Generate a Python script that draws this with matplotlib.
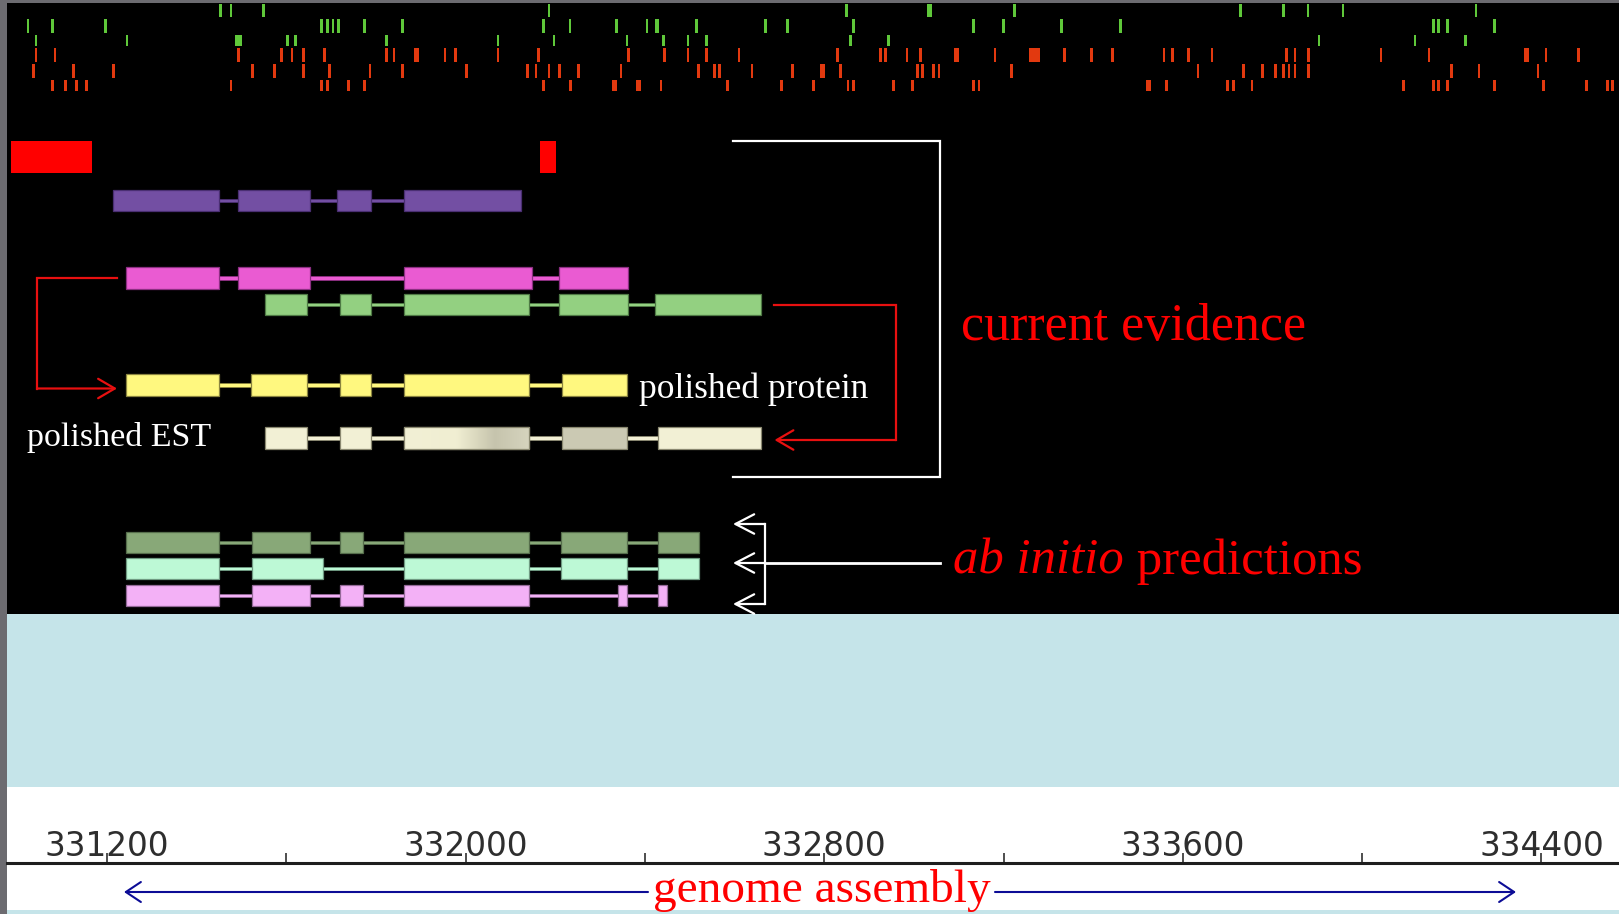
import numpy as np
import matplotlib
matplotlib.use("Agg")
import matplotlib.pyplot as plt
from matplotlib.patches import Rectangle
from matplotlib.colors import LinearSegmentedColormap

# ---------------------------------------------------------------- data
# genomic window shown in the browser panel
span_start, span_end = 330977, 334573

# ruler
major_ticks = [331200, 332000, 332800, 333600, 334400]
major_labels = ["331200", "332000", "332800", "333600", "334400"]
minor_ticks = [331600, 332400, 333200, 334000]

# small feature hits in the six upper tracks (centres, bp)
green_row1 = [331454, 331477, 331549, 332186, 332849, 333225, 333729,
              333825, 333879, 333957, 334254]
green_row2 = [331024, 331078, 331197, 331679, 331692, 331704, 331716,
              331775, 331859, 332174, 332233, 332336, 332405, 332515,
              332669, 332718, 332865, 333133, 333200, 333330, 333461,
              334159, 334171, 334190, 334296]
green_row3 = [331042, 331245, 331603, 331620, 331823, 332072, 332197,
              332360, 332441, 332496, 332537, 332858, 332943, 333904,
              334118, 334231]
red_row4 = [331042, 331084, 331494, 331590, 331613, 331639, 331686,
            331823, 331840, 331954, 331978, 332072, 332162, 332364,
            332443, 332496, 332537, 332610, 332829, 332925, 332937,
            332985, 333015, 333181, 333336, 333397, 333443, 333558,
            333577, 333613, 333665, 333832, 333850, 333880, 334042,
            334149, 334410, 334483]
red_row5 = [331036, 331126, 331215, 331525, 331573, 331639, 331697,
            331787, 331859, 332002, 332138, 332157, 332186, 332210,
            332252, 332347, 332520, 332556, 332567, 332639, 332729,
            332836, 333008, 333019, 333044, 333056, 333218, 333634,
            333736, 333777, 333807, 333825, 333837, 333850, 333880,
            334200, 334261, 334392]
red_row6 = [331078, 331108, 331132, 331155, 331477, 331679, 331692,
            331739, 331775, 332174, 332234, 332436, 332585, 332704,
            332776, 332853, 332865, 332954, 332997, 333133, 333145,
            333563, 333700, 333713, 333754, 334093, 334159, 334171,
            334190, 334296, 334404, 334500, 334547, 334558]
# longer hits: (track index, centre, length)
long_hits = [(0, 333035, 11), (1, 332427, 11), (2, 331494, 16),
             (3, 331890, 12), (3, 333095, 11), (3, 333269, 23),
             (3, 334366, 11), (4, 332797, 11),
             (5, 332332, 11), (5, 332386, 11), (5, 333524, 11)]

# gene models: exon (start, end) in bp
red_blocks = [(330987, 331166), (332166, 332202)]
model_purple = [(331213, 331450), (331492, 331653), (331713, 331790),
                (331863, 332123)]
model_pink = [(331243, 331450), (331492, 331653), (331863, 332148),
              (332208, 332362)]
model_green = [(331553, 331647), (331719, 331790), (331863, 332142),
               (332208, 332362), (332422, 332660)]
polished_protein = [(331242, 331450), (331522, 331647), (331720, 331789),
                    (331862, 332142), (332215, 332361)]
polished_est = [(331553, 331647), (331720, 331789), (331862, 332142),
                (332215, 332360), (332429, 332659)]
abinitio_1 = [(331242, 331449), (331523, 331652), (331719, 331772),
              (331862, 332141), (332212, 332360), (332429, 332521)]
abinitio_2 = [(331242, 331449), (331523, 331682), (331862, 332141),
              (332212, 332360), (332429, 332521)]
abinitio_3 = [(331242, 331449), (331523, 331652), (331719, 331772),
              (331862, 332141), (332339, 332360), (332429, 332450)]

# ---------------------------------------------------------------- figure
W, H = 1619, 914
fig = plt.figure(figsize=(W / 100, H / 100), dpi=100, facecolor="#6c6b70")

# main browser panel: x in bp, y in screen rows
ax = fig.add_axes([7 / W, 0, 1 - 7 / W, 1 - 3 / H])
ax.axis("off")

ax.axhspan(3, 614, color="black", lw=0)
ax.axhspan(614, 787, color="#c5e4e9", lw=0)
ax.axhspan(787, 910, color="white", lw=0)
ax.axhspan(910, 914, color="#c5e4e9", lw=0)

GREEN = "#5fc83a"
RED_HIT = "#e2390f"
track_rows = [green_row1, green_row2, green_row3, red_row4, red_row5, red_row6]
track_colors = [GREEN, GREEN, GREEN, RED_HIT, RED_HIT, RED_HIT]
track_bands = [(3.5, 17), (19, 33), (35, 46), (48, 62), (64, 78), (80, 91)]
for centers, col, (y0, y1) in zip(track_rows, track_colors, track_bands):
    ax.bar(centers, y1 - y0, width=6, bottom=y0, color=col, linewidth=0)
for idx, c, length in long_hits:
    y0, y1 = track_bands[idx]
    ax.bar([c], y1 - y0, width=length, bottom=y0, color=track_colors[idx],
           linewidth=0)


def draw_model(exons, y0, y1, face, edge, colors=None):
    yc = (y0 + y1) / 2
    for (_, b), (c, _) in zip(exons[:-1], exons[1:]):
        ax.add_patch(Rectangle((b, yc - 1.6), c - b, 3.2, facecolor=face,
                               edgecolor=edge, lw=0.6, zorder=3))
    for i, (a, b) in enumerate(exons):
        fc = colors[i] if colors else face
        ax.add_patch(Rectangle((a, y0), b - a, y1 - y0, facecolor=fc,
                               edgecolor=edge, lw=0.9, zorder=4))


for a, b in red_blocks:
    ax.add_patch(Rectangle((a, 141), b - a, 32, facecolor="#ff0000",
                           edgecolor="none", zorder=4))

draw_model(model_purple, 190, 211, "#734fa3", "#4a2f72")
draw_model(model_pink, 267, 289, "#ea5bd2", "#8c2f82")
draw_model(model_green, 294, 315, "#93d081", "#4f7a45")
draw_model(polished_protein, 374, 396, "#fff87f", "#8a8440")
est_light = "#f2f0d5"
draw_model(polished_est, 427, 449, est_light, "#8a8870",
           colors=[est_light, est_light, est_light, "#cbc9b3", est_light])
# shaded third exon of the EST alignment
shade = LinearSegmentedColormap.from_list(
    "est", [(0, est_light), (0.42, "#f0eed2"), (0.72, "#c6c4ad"), (1, "#d6d4be")])
a, b = polished_est[2]
ax.imshow(np.linspace(0, 1, 256)[None, :], cmap=shade, aspect="auto",
          extent=(a, b, 449, 427), interpolation="bilinear", zorder=4.5)
ax.add_patch(Rectangle((a, 427), b - a, 22, facecolor="none",
                       edgecolor="#8a8870", lw=0.9, zorder=5))

draw_model(abinitio_1, 532, 553, "#88a878", "#566e4c")
draw_model(abinitio_2, 558, 579, "#bdf9d6", "#6f9a82")
draw_model(abinitio_3, 585, 606, "#f3b1f6", "#946a98")

ax.set_xlim(span_start, span_end)
ax.set_ylim(H, 3)

# ruler
rx = fig.add_axes([7 / W, 4 / H, 1 - 7 / W, (910 - 863.3) / H])
rx.set_xlim(span_start, span_end)
rx.patch.set_alpha(0)
for s in ("left", "right", "bottom"):
    rx.spines[s].set_visible(False)
rx.spines["top"].set_linewidth(2.2)
rx.spines["top"].set_color("#1e1e1e")
rx.set_yticks([])
rx.xaxis.set_ticks_position("top")
rx.set_xticks(major_ticks)
rx.set_xticklabels(major_labels)
rx.set_xticks(minor_ticks, minor=True)
rx.tick_params(axis="x", which="both", direction="out", length=7.5,
               width=1.1, color="#1e1e1e", pad=-7.6, labelsize=23.5,
               labelcolor="#2e2e2e", labelbottom=False, labeltop=True)

# annotation layer in screen pixels
ov = fig.add_axes([0, 0, 1, 1])
ov.set_xlim(0, W)
ov.set_ylim(H, 0)
ov.axis("off")

RED = "#ff0000"
SERIF = "Liberation Serif"


def arrow(tail, tip, color, lw, hl, hw, style="->"):
    ov.annotate("", xy=tip, xytext=tail,
                arrowprops=dict(arrowstyle=f"{style},head_length={hl},head_width={hw}",
                                color=color, lw=lw, shrinkA=0, shrinkB=0,
                                mutation_scale=1))


# EST -> polished EST, protein -> polished protein
ov.plot([117, 37, 37], [277.5, 277.5, 388.5], color="#e81010", lw=1.6,
        solid_joinstyle="miter")
arrow((37, 388.5), (117, 388.5), "#e81010", 1.6, 12, 7)
ov.plot([774, 896, 896], [305, 305, 440], color="#e81010", lw=1.6,
        solid_joinstyle="miter")
arrow((896, 440), (774.5, 440), "#e81010", 1.6, 12, 7)

# bracket around the evidence tracks
ov.plot([733, 940, 940, 733], [141, 141, 477, 477], color="white", lw=1.6,
        solid_joinstyle="miter")

# pointers to the predictions
ov.plot([765, 765], [524, 604], color="white", lw=1.6)
ov.plot([765, 940], [563, 563], color="white", lw=2)
for y in (524, 563, 604):
    arrow((765, y), (733, y), "white", 1.6, 13.5, 7)

ov.text(961, 340, "current evidence", family=SERIF, fontsize=37.5, color=RED,
        va="baseline")
t1 = ov.text(953, 574, "ab initio", family=SERIF, style="italic",
             fontsize=36.5, color=RED, va="baseline")
ov.annotate(" predictions", xy=(1, 0), xycoords=t1, family=SERIF,
            fontsize=36.5, color=RED, va="bottom", ha="left")
ov.text(639, 398, "polished protein", family=SERIF, fontsize=25.5,
        color="white", va="baseline")
ov.text(27, 446, "polished EST", family=SERIF, fontsize=24.5, color="white",
        va="baseline")

# genome assembly span
arrow((648, 892), (124, 892), "#0c0c96", 1.5, 10.8, 7.2)
arrow((995, 892), (1516, 892), "#0c0c96", 1.5, 10.8, 7.2)
ov.text(821.5, 902, "genome assembly", family=SERIF, fontsize=34, color=RED,
        ha="center", va="baseline")

fig.savefig("out.png", dpi=100, facecolor=fig.get_facecolor())
